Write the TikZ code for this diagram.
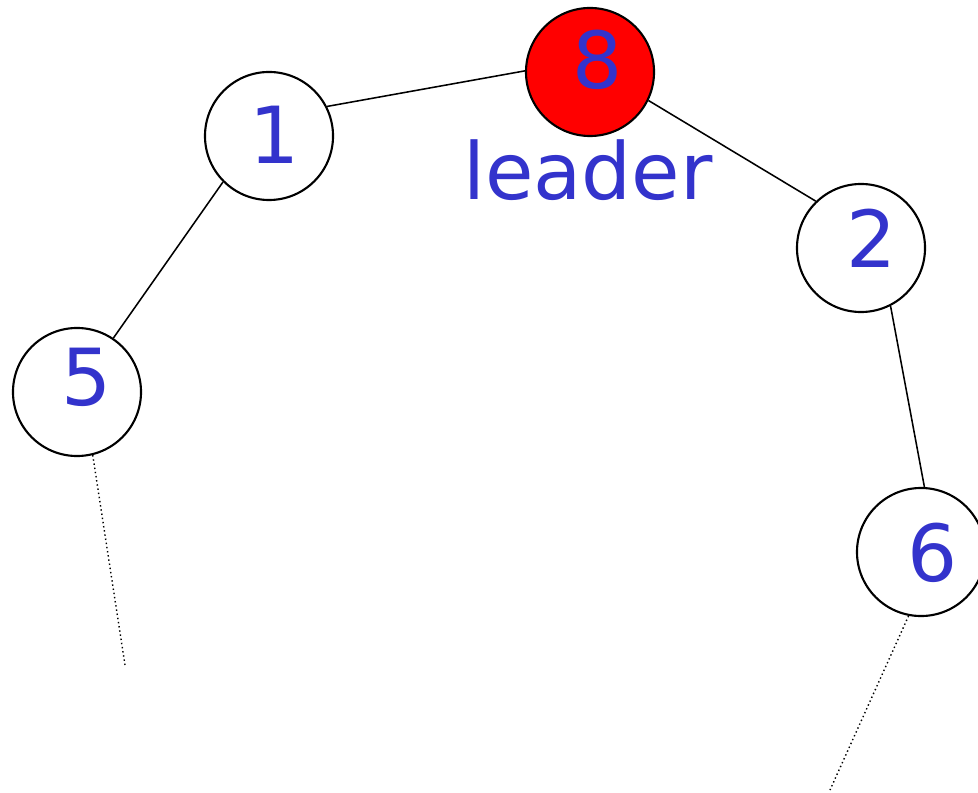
\documentclass[tikz,border=0pt]{standalone}
\usepackage{fontspec}
\setmainfont{DejaVu Sans}
\definecolor{numblue}{RGB}{51,51,204}

\begin{document}
\begin{tikzpicture}[
            x=0.025cm, y=-0.025cm,
            proc/.style={draw, circle, line width=1.5pt, minimum size=3.2cm, inner sep=0pt},
            num/.style={text=numblue, font=\fontsize{56}{60}\selectfont, inner sep=0pt},
            link/.style={line width=1.1pt},
            tail/.style={line width=1pt, dotted}
        ]
            \useasboundingbox (0,0) rectangle (978,793);

            % Ring of processes
            \node[proc] (c1) at (269,136) {};
            \node[proc, fill=red] (c8) at (590,72) {};
            \node[proc] (c2) at (861,248) {};
            \node[proc] (c5) at (77,392) {};
            \node[proc] (c6) at (921,552) {};

            % Process ids
            \node[num] (t1) at (275,135) {1};
            \node[num] (t8) at (598,60) {8};
            \node[num] (t2) at (872,238) {2};
            \node[num] (t5) at (87,377) {5};
            \node[num] (t6) at (933,553) {6};
            \node[num, anchor=base] (lead) at (588,200) {leader};

            % Ring links
            \draw[link] (c1.27) -- (c8.179);
            \draw[link] (c8.-26) -- (c2.134);
            \draw[link] (c1.225) -- (c5.56);
            \draw[link] (c2.-63) -- (c6.87);

            % Rest of the ring
            \coordinate (e5) at (125,665);
            \coordinate (e6) at (830,790);
            \draw[tail] (c5.-76) -- (e5);
            \draw[tail] (c6.-101) -- (e6);
        \end{tikzpicture}
\end{document}
